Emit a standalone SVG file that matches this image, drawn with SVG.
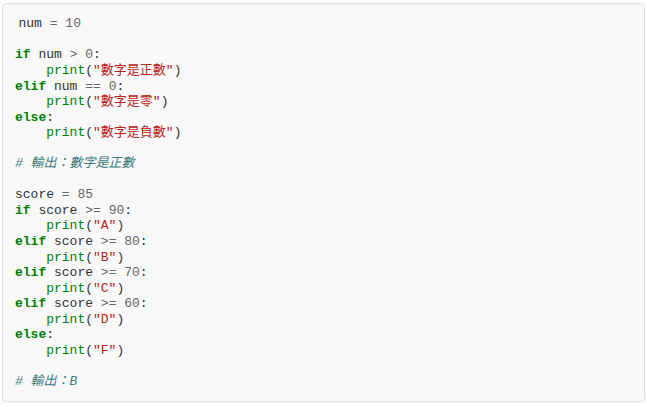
<svg xmlns="http://www.w3.org/2000/svg" width="647" height="407" viewBox="0 0 647 407">
<style>
.code{font-family:"Liberation Mono","Noto Sans CJK TC",monospace;font-size:13px;fill:#333;white-space:pre;}
.k{fill:#008000;font-weight:bold;}
.b{fill:#008000;}
.s{fill:#BA2121;}
.o{fill:#666;}
.n{fill:#666;}
.c{fill:#3D7B7B;font-style:italic;}
</style>
<rect id="codebox" x="2.5" y="3.5" width="642" height="398.5" rx="4" ry="4" fill="#f8f8f8" stroke="#dedede" stroke-width="1"/>
<g id="code" class="code">
<text xml:space="preserve" x="18.5" y="27.3">num <tspan class="o">=</tspan> <tspan class="n">10</tspan></text>
<text xml:space="preserve" x="15" y="58.4"><tspan class="k">if</tspan> num <tspan class="o">&gt;</tspan> <tspan class="n">0</tspan>:</text>
<text xml:space="preserve" x="46.2" y="73.95"><tspan class="b">print</tspan>(<tspan class="s">"數字是正數"</tspan>)</text>
<text xml:space="preserve" x="15" y="89.5"><tspan class="k">elif</tspan> num <tspan class="o">==</tspan> <tspan class="n">0</tspan>:</text>
<text xml:space="preserve" x="46.2" y="105.05"><tspan class="b">print</tspan>(<tspan class="s">"數字是零"</tspan>)</text>
<text xml:space="preserve" x="15" y="120.6"><tspan class="k">else</tspan>:</text>
<text xml:space="preserve" x="46.2" y="136.15"><tspan class="b">print</tspan>(<tspan class="s">"數字是負數"</tspan>)</text>
<text xml:space="preserve" x="15" y="167.25" class="c"># 輸出：數字是正數</text>
<text xml:space="preserve" x="15" y="198.35">score <tspan class="o">=</tspan> <tspan class="n">85</tspan></text>
<text xml:space="preserve" x="15" y="213.9"><tspan class="k">if</tspan> score <tspan class="o">&gt;=</tspan> <tspan class="n">90</tspan>:</text>
<text xml:space="preserve" x="46.2" y="229.45"><tspan class="b">print</tspan>(<tspan class="s">"A"</tspan>)</text>
<text xml:space="preserve" x="15" y="245"><tspan class="k">elif</tspan> score <tspan class="o">&gt;=</tspan> <tspan class="n">80</tspan>:</text>
<text xml:space="preserve" x="46.2" y="260.55"><tspan class="b">print</tspan>(<tspan class="s">"B"</tspan>)</text>
<text xml:space="preserve" x="15" y="276.1"><tspan class="k">elif</tspan> score <tspan class="o">&gt;=</tspan> <tspan class="n">70</tspan>:</text>
<text xml:space="preserve" x="46.2" y="291.65"><tspan class="b">print</tspan>(<tspan class="s">"C"</tspan>)</text>
<text xml:space="preserve" x="15" y="307.2"><tspan class="k">elif</tspan> score <tspan class="o">&gt;=</tspan> <tspan class="n">60</tspan>:</text>
<text xml:space="preserve" x="46.2" y="322.75"><tspan class="b">print</tspan>(<tspan class="s">"D"</tspan>)</text>
<text xml:space="preserve" x="15" y="338.3"><tspan class="k">else</tspan>:</text>
<text xml:space="preserve" x="46.2" y="353.85"><tspan class="b">print</tspan>(<tspan class="s">"F"</tspan>)</text>
<text xml:space="preserve" x="15" y="384.95" class="c"># 輸出：B</text>
</g>
</svg>
